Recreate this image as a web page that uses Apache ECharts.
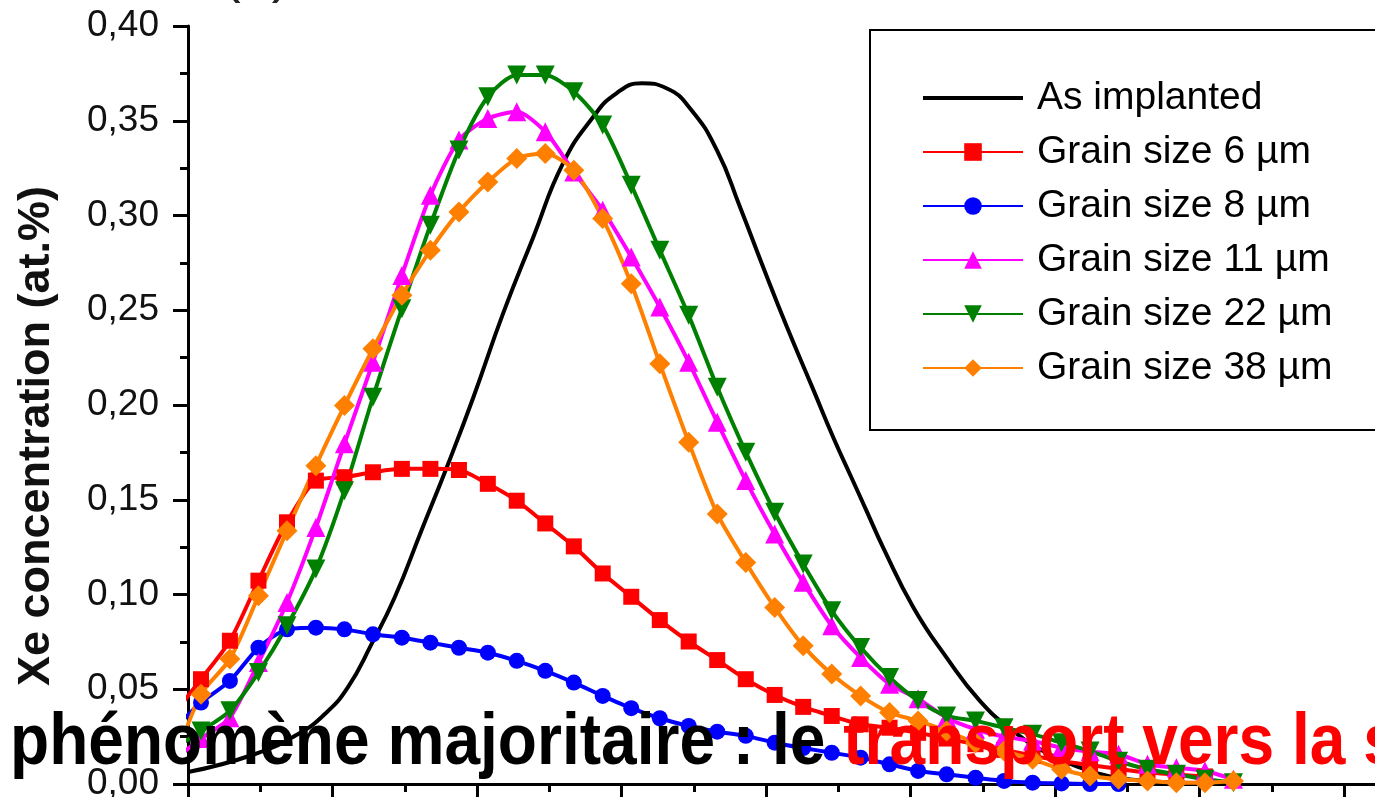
<!DOCTYPE html>
<html>
<head>
<meta charset="utf-8">
<script src="https://cdn.jsdelivr.net/npm/echarts@6/dist/echarts.min.js"></script>
<style>
html,body{margin:0;padding:0;background:#fff;}
#chart{width:1375px;height:797px;}
</style>
</head>
<body>
<div id="chart"></div>
<script>
// ---- data ----
// depth positions of the measured points (first one lies just left of the axis, clipped)
const depth = [-2.15, 1.8, 5.8, 9.75, 13.7, 17.7, 21.65, 25.6, 29.6, 33.55, 37.5, 41.5, 45.5, 49.45,
  53.4, 57.4, 61.35, 65.3, 69.3, 73.25, 77.2, 81.2, 85.15, 89.1, 93.1, 97.1, 101.05, 105.0, 109.0,
  112.95, 116.9, 120.9, 124.85, 128.8, 132.8, 136.8, 140.75, 144.7];

const grain6 = [0.036, 0.0553, 0.0756, 0.1073, 0.1381, 0.1601, 0.1619, 0.1645, 0.1663, 0.1663, 0.1657,
  0.1584, 0.1495, 0.1375, 0.1254, 0.1111, 0.0988, 0.0865, 0.0752, 0.0654, 0.0553, 0.0470, 0.0407,
  0.0359, 0.0315, 0.0297, 0.027, 0.024, 0.021, 0.018, 0.015, 0.012, 0.010, 0.008, 0.006, 0.005, 0.004, null];

const grain8 = [0.028, 0.043, 0.0544, 0.0719, 0.0816, 0.0825, 0.0816, 0.079, 0.0772, 0.0746, 0.0719,
  0.0693, 0.0650, 0.0597, 0.0535, 0.0465, 0.0400, 0.0347, 0.0306, 0.0276, 0.0254, 0.0218, 0.019,
  0.0165, 0.0139, 0.0104, 0.0069, 0.0051, 0.0033, 0.0016, 0.0007, 0.0003, 0.0, 0.0, null, null, null, null];

const grain11 = [0.012, 0.024, 0.035, 0.0641, 0.0958, 0.1354, 0.1795, 0.2226, 0.2684, 0.3107, 0.3398,
  0.3512, 0.3547, 0.3442, 0.3230, 0.3028, 0.2781, 0.2517, 0.2226, 0.1909, 0.1601, 0.1319, 0.1064,
  0.0835, 0.0667, 0.0527, 0.045, 0.035, 0.0289, 0.025, 0.0227, 0.0192, 0.017, 0.0157, 0.0104, 0.0086,
  0.0069, 0.0025];

const grain22 = [0.018, 0.028, 0.0386, 0.0588, 0.0835, 0.1134, 0.1548, 0.2041, 0.2508, 0.2949, 0.3345,
  0.3627, 0.3741, 0.3741, 0.3653, 0.3477, 0.3160, 0.2817, 0.2473, 0.2094, 0.1751, 0.1434, 0.1161,
  0.0914, 0.0720, 0.0562, 0.044, 0.0359, 0.0333, 0.0297, 0.0263, 0.0218, 0.0174, 0.012, 0.0078,
  0.0051, 0.0025, 0.0007];

const grain38 = [0.009, 0.0474, 0.0659, 0.0993, 0.1337, 0.168, 0.1997, 0.2297, 0.2579, 0.2817, 0.3019,
  0.3177, 0.3301, 0.3327, 0.3239, 0.2984, 0.2640, 0.2218, 0.1803, 0.1425, 0.1169, 0.0932, 0.0729,
  0.0580, 0.0465, 0.0377, 0.0333, 0.028, 0.0218, 0.0174, 0.0130, 0.0078, 0.0042, 0.0025, 0.0016,
  0.0007, 0.0007, 0.0016];

// as implanted profile: [depth, concentration]
const asImplanted = [[0, 0.0063], [9.2, 0.0157], [15.2, 0.0263], [18.9, 0.0368], [22.1, 0.0509],
  [25.4, 0.0738], [28.6, 0.0984], [32.3, 0.1337], [36.0, 0.1689], [39.5, 0.2041], [43.6, 0.2482],
  [47.8, 0.2887], [51.9, 0.3275], [56.1, 0.3521], [59.3, 0.3645], [62.8, 0.3698], [66.3, 0.367],
  [69.5, 0.3565], [73.2, 0.3345], [76.4, 0.3045], [79.6, 0.2728], [82.9, 0.2411], [86.5, 0.2085],
  [89.3, 0.183], [91.6, 0.1636], [93.9, 0.1443], [96.2, 0.1249], [100.4, 0.0932], [105.0, 0.0667],
  [109.6, 0.0439], [114.2, 0.028], [118.8, 0.0165], [123.5, 0.0086], [127.6, 0.004], [133.1, 0.0015],
  [140, 0.0005]];

const seriesNames = ['As implanted', 'Grain size 6 µm', 'Grain size 8 µm', 'Grain size 11 µm',
  'Grain size 22 µm', 'Grain size 38 µm'];
const yTickValues = [0, 0.05, 0.10, 0.15, 0.20, 0.25, 0.30, 0.35, 0.40];
const yTickLabels = ['0,00', '0,05', '0,10', '0,15', '0,20', '0,25', '0,30', '0,35', '0,40'];

// ---- chart ----
function pairs(ys) {
  const out = [];
  depth.forEach((x, i) => { if (ys[i] != null) out.push([x, ys[i]]); });
  return out;
}
const FONT = '"Liberation Sans", Arial, sans-serif';
const LW = 4;

function markerSeries(name, ys, color, symbol, size, rotate) {
  return {
    name: name, type: 'line', data: pairs(ys),
    symbol: symbol, symbolSize: size, symbolRotate: rotate || 0,
    showSymbol: true, smooth: 0.25, clip: true,
    lineStyle: { width: LW, color: color },
    itemStyle: { color: color },
    emphasis: { disabled: true }
  };
}

const chart = echarts.init(document.getElementById('chart'), null, { renderer: 'canvas' });
chart.setOption({
  animation: false,
  backgroundColor: '#fff',
  textStyle: { fontFamily: FONT },
  grid: { left: 188, top: 26, bottom: 13, right: -113.5, containLabel: false, outerBoundsMode: 'none' },
  xAxis: {
    type: 'value', min: 0, max: 180, interval: 20,
    axisLine: { show: true, onZero: false, lineStyle: { color: '#000', width: 3 } },
    axisTick: { show: true, length: 15, lineStyle: { color: '#000', width: 3 } },
    minorTick: { show: true, splitNumber: 2, length: 8, lineStyle: { color: '#000', width: 3 } },
    axisLabel: { show: false },
    splitLine: { show: false }
  },
  yAxis: {
    type: 'value', min: 0, max: 0.4, interval: 0.05,
    axisLine: { show: true, lineStyle: { color: '#000', width: 3 } },
    axisTick: { show: true, length: 15, lineStyle: { color: '#000', width: 3 } },
    minorTick: { show: true, splitNumber: 2, length: 8, lineStyle: { color: '#000', width: 3 } },
    splitLine: { show: false },
    axisLabel: {
      fontSize: 37, color: '#111', fontFamily: FONT, margin: 29,
      formatter: function (v) {
        const i = yTickValues.findIndex(t => Math.abs(t - v) < 1e-6);
        return i >= 0 ? yTickLabels[i] : '';
      }
    }
  },
  legend: {
    orient: 'vertical', left: 870, top: 30,
    padding: [48, 120, 42, 52],
    itemWidth: 100, itemHeight: 22, itemGap: 14,
    borderColor: '#000', borderWidth: 2, backgroundColor: '#fff',
    selectedMode: false,
    textStyle: { fontSize: 39, color: '#000', fontFamily: FONT, lineHeight: 40, padding: [0, 0, 0, 9] },
    data: [
      { name: seriesNames[0], icon: 'path://M0,0H100V4H0Z' },
      seriesNames[1], seriesNames[2], seriesNames[3], seriesNames[4], seriesNames[5]
    ]
  },
  series: [
    {
      name: seriesNames[0], type: 'line', data: asImplanted, symbol: 'none', smooth: 0.5, clip: true,
      lineStyle: { width: LW, color: '#000' }, itemStyle: { color: '#000' }, emphasis: { disabled: true }
    },
    markerSeries(seriesNames[1], grain6, '#ff0000', 'rect', 16),
    markerSeries(seriesNames[2], grain8, '#0000ff', 'circle', 16),
    markerSeries(seriesNames[3], grain11, '#ff00ff', 'triangle', 19),
    markerSeries(seriesNames[4], grain22, '#008000', 'triangle', 19, 180),
    markerSeries(seriesNames[5], grain38, '#ff8000', 'diamond', 21)
  ],
  graphic: [
    {
      type: 'text', x: 37, y: 436, rotation: Math.PI / 2, z: 50,
      style: { text: 'Xe concentration (at.%)', font: 'bold 45px ' + FONT, fill: '#111',
        align: 'center', verticalAlign: 'middle' }
    },
    {
      type: 'text', x: 222, y: 4, z: 50,
      style: { text: '(a)', font: '56px ' + FONT, fill: '#222', align: 'left', verticalAlign: 'bottom' }
    },
    {
      type: 'text', x: 10, y: 744, scaleX: 0.89, z: 100,
      style: {
        text: '{k|phénomène majoritaire : le }{r|transport vers la surface}',
        verticalAlign: 'middle', align: 'left',
        fontSize: 72, fontWeight: 'bold', fontFamily: FONT,
        rich: {
          k: { fill: '#000', fontSize: 72, fontWeight: 'bold', fontFamily: FONT },
          r: { fill: '#ff0000', fontSize: 72, fontWeight: 'bold', fontFamily: FONT }
        }
      }
    }
  ]
});
</script>
</body>
</html>
